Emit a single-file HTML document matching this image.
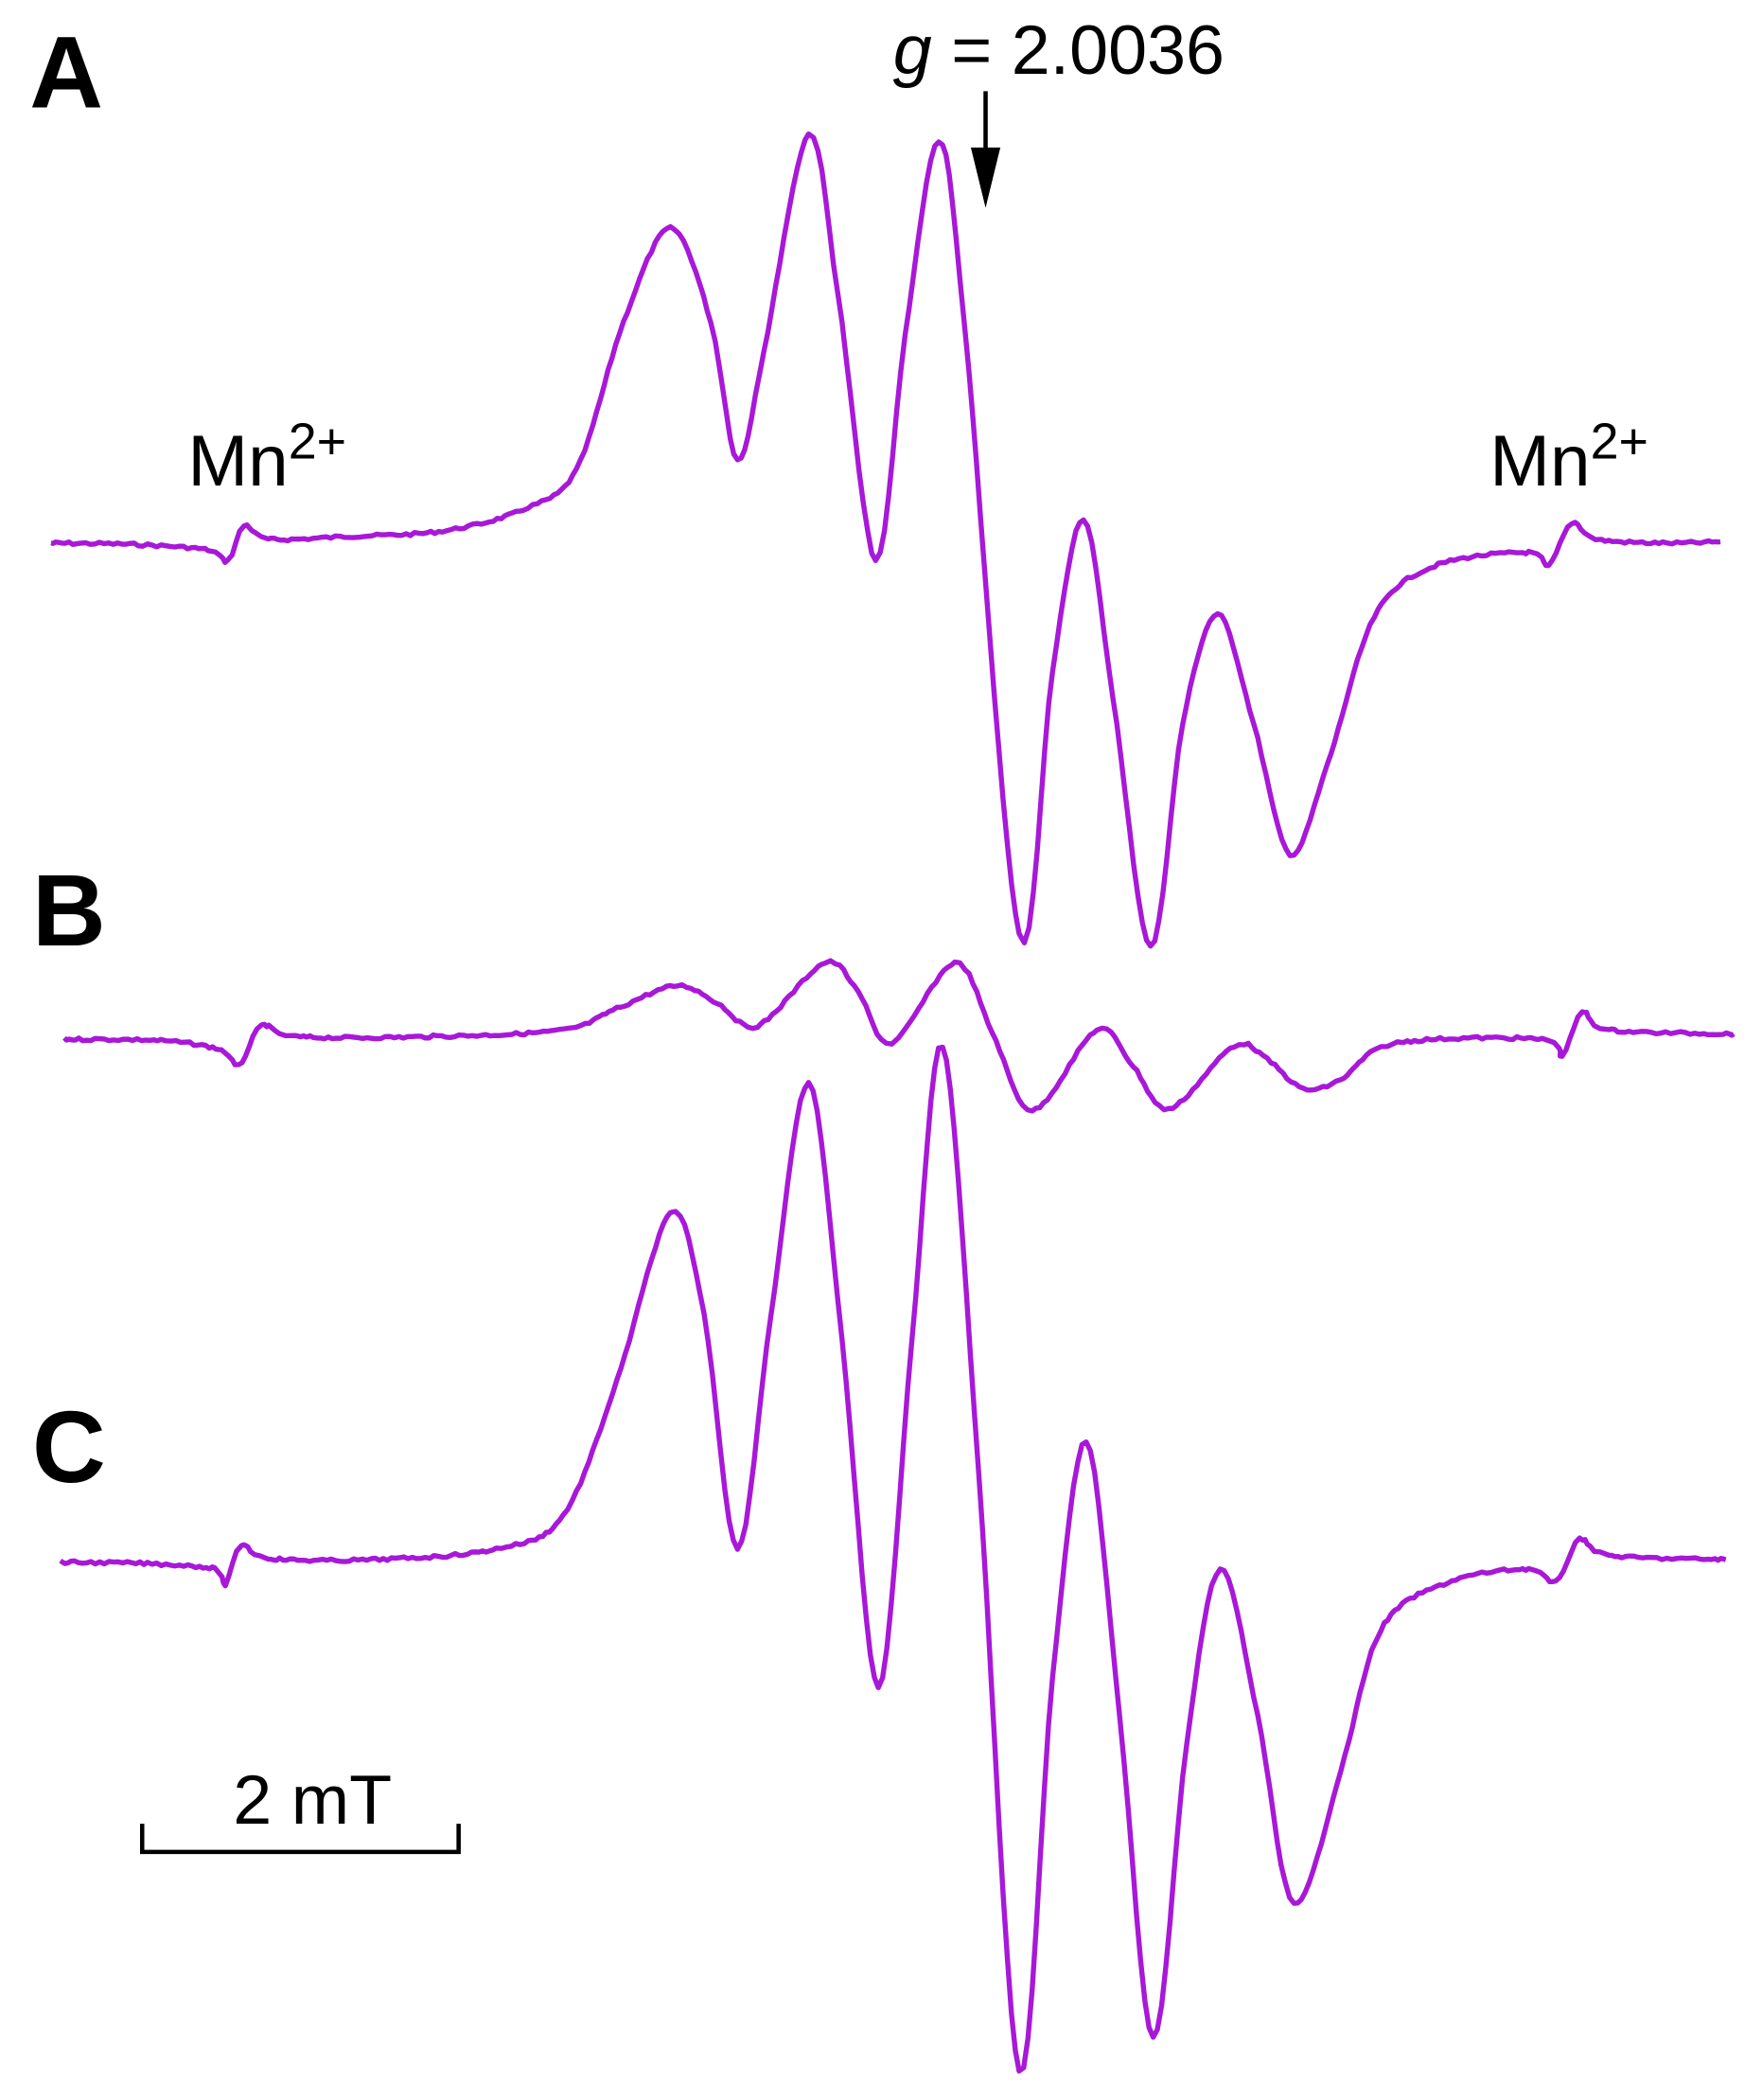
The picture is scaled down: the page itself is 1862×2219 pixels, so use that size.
<!DOCTYPE html>
<html><head><meta charset="utf-8"><style>
html,body{margin:0;padding:0;background:#fff;}
svg{display:block;}
text{font-family:"Liberation Sans",sans-serif;fill:#000;}
</style></head><body>
<svg id="s" width="1862" height="2219" viewBox="0 0 1314 1566" xmlns="http://www.w3.org/2000/svg">
<text x="22" y="80" font-size="76" font-weight="bold">A</text>
<text x="24" y="705" font-size="76" font-weight="bold">B</text>
<text x="24" y="1105" font-size="76" font-weight="bold">C</text>
<text x="666" y="55" font-size="52"><tspan font-style="italic">g</tspan> = 2.0036</text>
<line x1="735" y1="68" x2="735" y2="130" stroke="#000" stroke-width="3.2"/>
<polygon points="724,110 746,110 735,155" fill="#000"/>
<text x="140" y="362" font-size="54">Mn<tspan font-size="38" dy="-20">2+</tspan></text>
<text x="1111" y="362" font-size="54">Mn<tspan font-size="38" dy="-20">2+</tspan></text>
<text x="233" y="1360" font-size="52" text-anchor="middle">2 mT</text>
<path d="M106,1360 V1381 H342 V1360" fill="none" stroke="#000" stroke-width="3.2"/>
<g id="tr" fill="none" stroke="#a818d8" stroke-width="3.8" stroke-linejoin="round"></g>
</svg>
<script>
var A=[[38,405],[100,406],[155,410],[170,418],[182,392],[200,402],[260,400],[330,396],[390,380],[430,350],[465,240],[500,170],[530,240],[550,343],[570,260],[603,100],[625,220],[653,418],[675,250],[700,105],[720,250],[760,697],[785,500],[808,387],[830,520],[858,706],[882,540],[908,458],[935,540],[962,637],[990,570],[1025,460],[1070,422],[1140,412],[1155,422],[1172,390],[1190,402],[1240,405],[1283,404]];
var B=[[48,775],[120,776],[165,783],[178,795],[195,765],[220,773],[320,773],[420,768],[460,752],[505,735],[535,748],[565,765],[615,718],[640,740],[665,778],[712,718],[740,770],[770,828],[818,768],[845,795],[872,827],[920,780],[945,790],[972,812],[1000,805],[1040,778],[1150,775],[1165,787],[1180,755],[1200,768],[1293,771]];
var C=[[45,1165],[110,1166],[160,1170],[168,1182],[180,1152],[200,1162],[280,1163],[370,1155],[420,1130],[460,1030],[500,905],[525,980],[550,1155],[575,980],[603,808],[628,1000],[655,1258],[680,1000],[703,780],[730,1100],[760,1545],[785,1250],[810,1075],[835,1280],[860,1520],[885,1300],[910,1170],[938,1280],[965,1420],[1000,1320],[1030,1215],[1080,1180],[1140,1170],[1160,1180],[1178,1148],[1200,1160],[1287,1163]];
var seed=7;function rnd(){seed=(seed*9301+49297)%233280;return seed/233280-0.5;}
function path(P){
 var pts=[];
 for(var i=0;i<P.length-1;i++){
  var p0=P[Math.max(0,i-1)],p1=P[i],p2=P[i+1],p3=P[Math.min(P.length-1,i+2)];
  var n=Math.max(2,Math.round((p2[0]-p1[0])/3));
  for(var k=0;k<n;k++){
   var t=k/n,t2=t*t,t3=t2*t;
   var f=function(a,b,c,d){return 0.5*((2*b)+(-a+c)*t+(2*a-5*b+4*c-d)*t2+(-a+3*b-3*c+d)*t3);};
   pts.push([f(p0[0],p1[0],p2[0],p3[0]),f(p0[1],p1[1],p2[1],p3[1])+rnd()*2.2]);
  }
 }
 pts.push(P[P.length-1]);
 return "M"+pts.map(function(p){return p[0].toFixed(1)+","+p[1].toFixed(1);}).join(" L");
}
var g=document.getElementById("tr");
[A,B,C].forEach(function(P){var e=document.createElementNS("http://www.w3.org/2000/svg","path");e.setAttribute("d",path(P));g.appendChild(e);});
</script>
</body></html>
